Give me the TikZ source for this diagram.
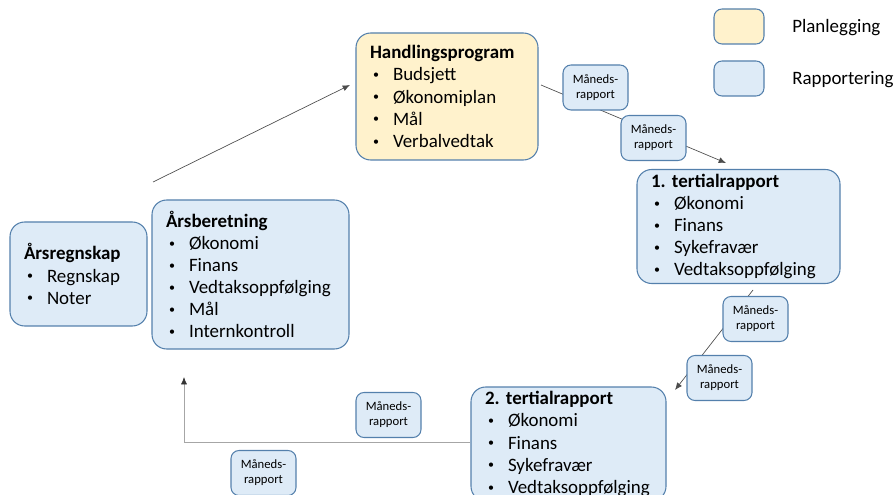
\documentclass[tikz,border=0pt]{standalone}
\usepackage{fontspec}
\setmainfont{Carlito}
\usepackage{tikz}
\usetikzlibrary{arrows}
\usetikzlibrary{arrows.meta}
\usetikzlibrary{shapes}
\usetikzlibrary{positioning}
\definecolor{kant}{RGB}{84,128,172}
\definecolor{gul}{RGB}{255,242,204}
\definecolor{blaa}{RGB}{222,235,247}
\tikzstyle{boks}=[draw=kant,line width=0.8pt,rounded corners=11pt,align=left,inner xsep=10.5pt,font=\fontsize{14.2pt}{16.6pt}\selectfont]
\tikzstyle{plan}=[boks,fill=gul]
\tikzstyle{rap}=[boks,fill=blaa]
\tikzstyle{mnd}=[draw=kant,line width=0.8pt,fill=blaa,rounded corners=6pt,align=center,inner sep=0pt,minimum width=48.75pt,minimum height=33.75pt,font=\fontsize{9.5pt}{11.25pt}\selectfont]
\tikzstyle{leg}=[draw=kant,line width=0.8pt,rounded corners=6pt,minimum width=37.5pt,minimum height=26.25pt]
\tikzstyle{tran}=[draw,-{Latex[length=5.5pt,width=4.5pt]},black!70,line width=0.5pt]
\newcommand{\itm}[1]{\makebox[17.25pt][l]{\hspace{2.25pt}\raisebox{0.12em}{\fontsize{9pt}{9pt}\selectfont\textbullet}}#1}
\frenchspacing

\begin{document}
\begin{tikzpicture}[x=0.75pt,y=-0.75pt]
\useasboundingbox (0,0) rectangle (896,495);

% legend
\node[leg,fill=gul] (lplan) at (739,26.5) {};
\node[leg,fill=blaa] (lrap) at (739,78.5) {};
\node[anchor=west,font=\fontsize{14.2pt}{16.6pt}\selectfont,inner sep=0pt] (tplan) at (792,28) {Planlegging};
\node[anchor=west,font=\fontsize{14.2pt}{16.6pt}\selectfont,inner sep=0pt] (trap) at (792,80) {Rapportering};

% the cycle
\node[plan,text width=115.5pt,minimum height=95.25pt] (hp) at (447,96.5)
{\textbf{Handlingsprogram}\\ \itm{Budsjett}\\ \itm{Økonomiplan}\\ \itm{Mål}\\ \itm{Verbalvedtak}};
\node[rap,text width=131.25pt,minimum height=81.75pt] (t1) at (738.5,226.5)
{\textbf{1. tertialrapport}\\ \itm{Økonomi}\\ \itm{Finans}\\ \itm{Sykefravær}\\ \itm{Vedtaksoppfølging}};
\node[rap,text width=125.25pt,minimum height=84pt] (t2) at (568.5,444)
{\textbf{2. tertialrapport}\\ \itm{Økonomi}\\ \itm{Finans}\\ \itm{Sykefravær}\\ \itm{Vedtaksoppfølging}};
\node[rap,text width=126.75pt,minimum height=111.75pt] (ab) at (250.5,274.5)
{\textbf{Årsberetning}\\ \itm{Økonomi}\\ \itm{Finans}\\ \itm{Vedtaksoppfølging}\\ \itm{Mål}\\ \itm{Internkontroll}};
\node[rap,text width=81.75pt,minimum height=78pt] (ar) at (78.5,274)
{\textbf{Årsregnskap}\\ \itm{Regnskap}\\ \itm{Noter}};

\coordinate (a1) at (153,182);
\coordinate (a2) at (350,85);
\coordinate (b1) at (541,85);
\coordinate (b2) at (726,163);
\coordinate (c1) at (753,290);
\coordinate (c2) at (675,390);
\coordinate (d1) at (184,442);
\coordinate (d2) at (184,377);

\draw[tran] (a1) -- (a2);
\draw[tran] (b1) -- (b2);
\draw[tran] (c1) -- (c2);
\draw[tran,black!35,-{Latex[length=5.5pt,width=4.5pt,black!80]}] (t2.west|-d1) -- (d1) -- (d2);

% monthly reports
\node[mnd] (m1) at (595.5,87.5) {Måneds-\\rapport};
\node[mnd] (m2) at (653.5,138) {Måneds-\\rapport};
\node[mnd] (m3) at (755.5,319) {Måneds-\\rapport};
\node[mnd] (m4) at (719.5,378) {Måneds-\\rapport};
\node[mnd] (m5) at (388.5,415) {Måneds-\\rapport};
\node[mnd] (m6) at (263.5,473) {Måneds-\\rapport};
\end{tikzpicture}
\end{document}
